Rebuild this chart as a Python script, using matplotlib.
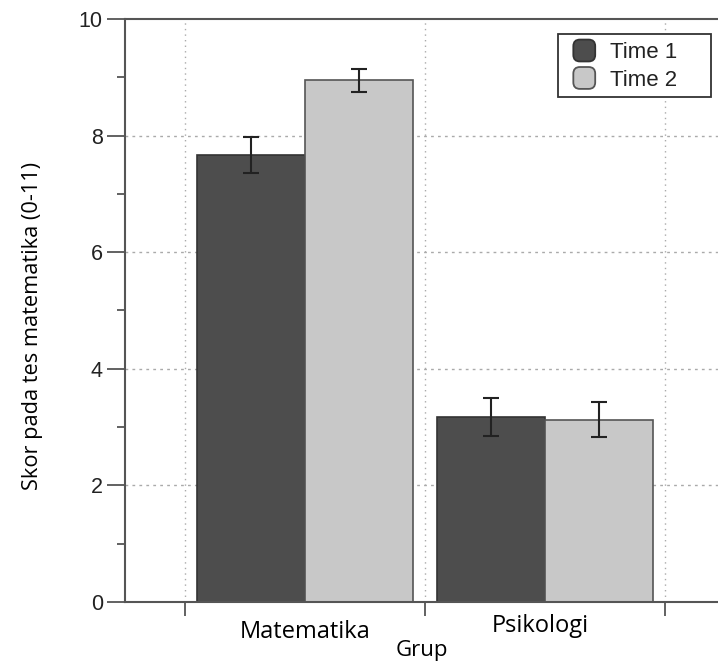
import matplotlib
matplotlib.use("Agg")
import matplotlib.pyplot as plt
import matplotlib.transforms as mtransforms
from matplotlib.patches import FancyBboxPatch, Patch, Rectangle
from matplotlib.legend_handler import HandlerPatch
import numpy as np

groups = ["Matematika", "Psikologi"]
series = ["Time 1", "Time 2"]
time1 = [7.67, 3.17]
time1_err = [0.31, 0.33]
time2 = [8.95, 3.13]
time2_err = [0.20, 0.30]
yticks = [0, 2, 4, 6, 8, 10]

fig = plt.figure(figsize=(7.18, 6.64), dpi=100)
ax = fig.add_axes([125/718, 62/664, 1 - 125/718, (602-19)/664])

x = np.arange(len(groups))
w = 0.45
dark = "#4d4d4d"
light = "#c8c8c8"
edge = "#333333"
ax.bar(x - w/2, time1, w, color=dark, edgecolor=edge, linewidth=1.2, zorder=2)
ax.bar(x + w/2, time2, w, color=light, edgecolor="#555555", linewidth=1.2, zorder=2)
ax.errorbar(x - w/2, time1, yerr=time1_err, fmt="none", ecolor="#222222", elinewidth=1.5, capsize=6, capthick=1.5, zorder=3)
ax.errorbar(x + w/2, time2, yerr=time2_err, fmt="none", ecolor="#222222", elinewidth=1.5, capsize=6, capthick=1.5, zorder=3)

ax.set_xlim(-0.75, 1.72)
ax.set_ylim(0, 10)

ax.spines["right"].set_visible(False)
for s in ["left", "top", "bottom"]:
    ax.spines[s].set_color("#555555")
    ax.spines[s].set_linewidth(1.5)

ax.set_yticks(yticks)
ax.set_yticks([1, 3, 5, 7, 9], minor=True)
ax.tick_params(axis="y", which="major", length=13, width=1.3, color="#555555",
               labelsize=15.5, pad=3)
ax.tick_params(axis="y", which="minor", length=6, width=1.3, color="#555555")
for lab in ax.get_yticklabels():
    lab.set_fontfamily("Liberation Sans")
    lab.set_color("#222222")

ax.set_xticks(x)
ax.set_xticklabels(groups, fontsize=17, fontfamily="Open Sans")
ax.set_xticks([-0.5, 0.5, 1.5], minor=True)
ax.tick_params(axis="x", which="major", length=0, pad=13)
ax.tick_params(axis="x", which="minor", length=10, width=1.3, color="#555555")
labs = ax.get_xticklabels()
labs[1].set_transform(labs[1].get_transform() + mtransforms.ScaledTranslation(-0.05, 6/100, fig.dpi_scale_trans))

ax.grid(True, which="minor", axis="x", linestyle=(0, (1, 3)), color="#aaaaaa", linewidth=1)
for yv in [2, 4, 6, 8]:
    ax.axhline(yv, linestyle=(0, (2, 3)), color="#aaaaaa", linewidth=1, zorder=1)
ax.set_axisbelow(True)

ax.set_ylabel("Skor pada tes matematika (0-11)", fontsize=15.7, fontfamily="Open Sans")
ax.yaxis.set_label_coords(-0.138, 0.473)
ax.set_xlabel("Grup", fontsize=16, fontfamily="Open Sans", labelpad=-3)


class RoundHandler(HandlerPatch):
    def create_artists(self, legend, orig_handle, xdescent, ydescent, width, height, fontsize, trans):
        s = min(width, height) * 1.1
        cx = -xdescent + width / 2
        cy = -ydescent + height / 2
        p = FancyBboxPatch((cx - s/2, cy - s/2), s, s,
                           boxstyle="round,pad=0,rounding_size=%f" % (s * 0.3),
                           facecolor=orig_handle.get_facecolor(),
                           edgecolor=orig_handle.get_edgecolor(), linewidth=1.3,
                           transform=trans)
        return [p]


# legend frame box
ax.add_patch(Rectangle((0.730, 0.866), 0.258, 0.108, transform=ax.transAxes,
                       facecolor="white", edgecolor="#333333", linewidth=1.3, zorder=4))

handles = [Patch(facecolor=dark, edgecolor="#333333"),
           Patch(facecolor=light, edgecolor="#555555")]
leg = ax.legend(handles, series, loc="upper left", bbox_to_anchor=(0.752, 0.963),
                borderaxespad=0, frameon=False,
                prop={"family": "Liberation Sans", "size": 16},
                handletextpad=0.55, borderpad=0, labelspacing=0.22,
                handlelength=1.2, handleheight=1.0,
                handler_map={Patch: RoundHandler()})
leg.set_zorder(5)
for t in leg.get_texts():
    t.set_color("#222222")

fig.savefig("out.png", dpi=100)
